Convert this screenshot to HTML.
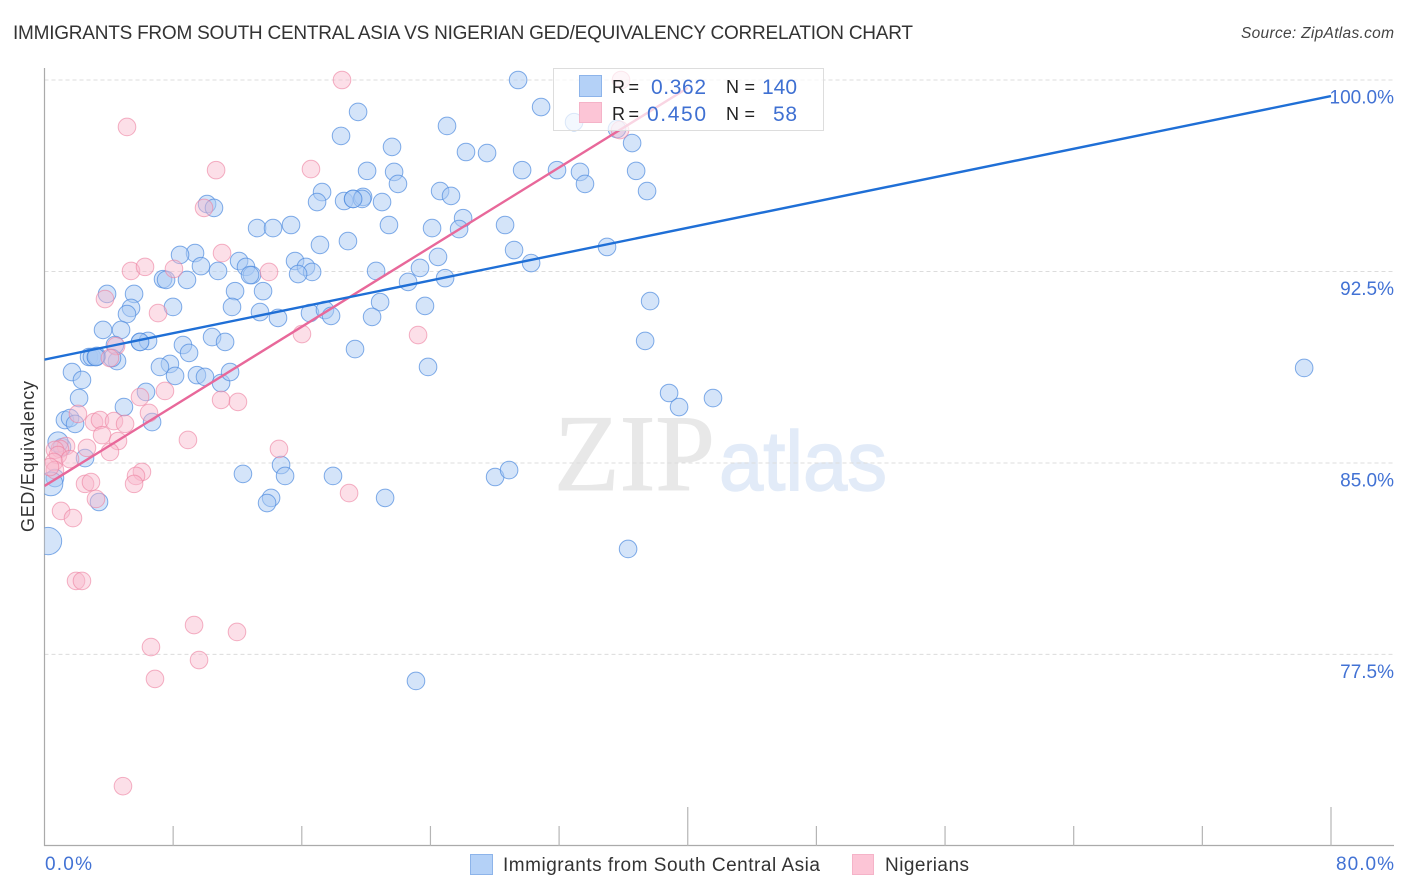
<!DOCTYPE html>
<html lang="en">
<head>
<meta charset="utf-8">
<title>GED/Equivalency Correlation Chart</title>
<style>
html,body{margin:0;padding:0;background:#fff;width:1406px;height:892px;overflow:hidden}
svg{display:block;font-family:"Liberation Sans",sans-serif}
</style>
</head>
<body>
<svg id="chart" xmlns="http://www.w3.org/2000/svg" width="1406" height="892" viewBox="0 0 1406 892">
  <defs><clipPath id="plot-clip"><rect x="44.5" y="60" width="1350" height="786"/></clipPath></defs>
  <text x="13" y="39" font-size="19" fill="#333" textLength="900" lengthAdjust="spacing">IMMIGRANTS FROM SOUTH CENTRAL ASIA VS NIGERIAN GED/EQUIVALENCY CORRELATION CHART</text>
  <text x="1241" y="38" font-size="15.5" font-style="italic" fill="#444" textLength="153" lengthAdjust="spacing">Source: ZipAtlas.com</text>
  <g>
    <text x="554" y="490" font-family="'Liberation Serif',serif" font-size="109" fill="#e8e8e8" stroke="#e8e8e8" stroke-width="1" textLength="161" lengthAdjust="spacingAndGlyphs">ZIP</text>
    <text x="719" y="490" font-size="84" fill="#e2ebf8" stroke="#e2ebf8" stroke-width="1.5" textLength="168" lengthAdjust="spacingAndGlyphs">atlas</text>
  </g>
  <g id="grid"></g>
  <g id="axes"></g>
  <text transform="translate(34,532) rotate(-90)" x="0" y="0" font-size="18" fill="#333" textLength="151" lengthAdjust="spacing">GED/Equivalency</text>
  <g clip-path="url(#plot-clip)">
    <g id="blue-dots"></g>
    <g id="pink-dots"></g>
    <g id="trends"></g>
  </g>
  <g id="ylabels"></g>
  <g>
    <rect x="553.5" y="68.5" width="270" height="62" fill="#fff" fill-opacity="0.72" stroke="#ddd"/>
    <rect x="579.5" y="75.5" width="22" height="21" fill="#b4d1f7" stroke="#8db4ea"/>
    <rect x="579.5" y="102.5" width="22" height="20" fill="#fcc5d6" stroke="#f5b3c8"/>
    <text x="612" y="93" font-size="18" fill="#222" textLength="27" lengthAdjust="spacing">R =</text>
    <text x="651" y="94" font-size="21" fill="#3f70d2" textLength="55" lengthAdjust="spacing">0.362</text>
    <text x="726" y="93" font-size="18" fill="#222" textLength="29" lengthAdjust="spacing">N =</text>
    <text x="762" y="94" font-size="21" fill="#3f70d2" textLength="35" lengthAdjust="spacing">140</text>
    <text x="612" y="120" font-size="18" fill="#222" textLength="27" lengthAdjust="spacing">R =</text>
    <text x="647" y="121" font-size="21" fill="#3f70d2" textLength="59" lengthAdjust="spacing">0.450</text>
    <text x="726" y="120" font-size="18" fill="#222" textLength="29" lengthAdjust="spacing">N =</text>
    <text x="773" y="121" font-size="21" fill="#3f70d2" textLength="24" lengthAdjust="spacing">58</text>
  </g>
  <g>
    <rect x="470.5" y="854.5" width="22" height="20" fill="#b4d1f7" stroke="#8db4ea"/>
    <text x="503" y="871" font-size="19" fill="#333" textLength="317" lengthAdjust="spacing">Immigrants from South Central Asia</text>
    <rect x="852.5" y="854.5" width="21" height="20" fill="#fcc5d6" stroke="#f5b3c8"/>
    <text x="885" y="871" font-size="19" fill="#333" textLength="84" lengthAdjust="spacing">Nigerians</text>
  </g>
</svg>
<script>
// Chart data (x: share of immigrants %, y: GED/equivalency %)
const yTicks = [100, 92.5, 85, 77.5];
const yTickLabels = ["100.0%", "92.5%", "85.0%", "77.5%"];
const xTicks = [0, 8, 16, 24, 32, 40, 48, 56, 64, 72, 80];
const xMajorTicks = [40, 80];
const xTickLabels = ["0.0%", "80.0%"];

const blueX = [29.45,30.88,19.50,25.03,32.93,21.61,18.44,35.60,36.54,26.21,27.52,29.70,31.87,33.30,36.79,33.61,37.47,20.06,21.74,21.98,17.26,16.95,18.63,19.19,19.81,19.75,20.99,24.60,25.28,26.03,25.78,24.10,28.64,21.42,10.11,10.54,13.22,14.21,15.33,17.13,18.87,29.20,30.26,34.98,24.47,23.35,20.62,22.61,24.91,9.36,8.43,9.73,10.79,12.10,12.53,12.90,12.78,15.58,16.26,16.64,15.77,13.59,11.85,7.37,7.56,8.86,3.89,5.57,5.38,5.13,7.99,11.66,13.40,14.52,16.51,17.44,17.82,20.87,20.37,23.66,37.66,3.64,4.76,10.42,11.23,5.94,6.44,4.38,8.61,8.99,19.31,37.35,2.77,2.95,3.26,3.20,4.51,4.20,7.80,7.18,8.12,9.48,9.98,10.98,11.54,23.85,78.33,1.71,2.33,2.15,6.31,4.94,6.69,38.84,39.46,41.57,1.27,1.59,1.90,2.52,1.09,12.34,14.71,14.96,17.94,28.02,28.89,14.09,13.84,21.18,3.39,36.29,23.10,0.65,5.94,3.20,19.19,0.84,0.40,0.22];
const blueY = [100,98.94,98.75,98.20,98.35,97.38,97.81,98.08,97.53,97.18,97.14,96.47,96.47,96.40,96.44,95.93,95.65,96.44,96.40,95.93,95.61,95.22,95.26,95.34,95.42,95.34,95.22,95.65,95.46,94.59,94.16,94.20,94.32,94.32,95.14,94.99,94.20,94.20,94.32,93.54,93.69,93.34,92.83,93.46,93.07,92.64,92.52,92.09,92.24,93.22,93.15,92.71,92.52,92.91,92.68,92.36,92.36,92.91,92.68,92.48,92.40,91.73,91.73,92.20,92.17,92.17,91.62,91.62,91.07,90.83,91.11,91.11,90.91,90.68,90.87,90.99,90.76,91.30,90.72,91.15,91.34,90.21,90.21,89.93,89.74,89.74,89.78,89.62,89.62,89.31,89.46,89.78,89.15,89.15,89.19,89.15,88.99,89.11,88.88,88.76,88.41,88.44,88.37,88.13,88.56,88.76,88.72,88.56,88.25,87.54,87.78,87.19,86.60,87.74,87.19,87.54,86.68,86.76,86.53,85.19,85.62,84.57,84.92,84.49,84.49,84.45,84.72,83.63,83.43,83.63,83.47,81.63,76.46,84.41,89.74,89.15,95.34,85.82,84.18,81.94];
// Bubble weights of the last few blue points (all others weigh 1)
const blueLastWeights = [1.15, 1.35, 1.55];

const pinkX = [18.50,35.85,5.13,10.67,16.57,9.92,11.04,5.38,6.25,8.05,13.96,3.76,7.06,16.01,23.23,4.45,4.07,7.49,5.94,10.98,12.03,6.50,2.08,3.08,3.45,4.32,5.01,3.58,4.57,8.92,2.64,4.07,14.58,1.34,0.96,0.65,0.84,0.59,1.59,0.65,0.34,6.06,5.69,5.57,2.52,2.89,3.20,18.94,1.03,1.77,1.96,2.33,9.30,11.97,6.62,9.61,6.87,4.88,35.79];
const pinkY = [100,100,98.16,96.47,96.51,94.99,93.22,92.52,92.68,92.60,92.48,91.42,90.87,90.05,90.01,89.58,89.11,87.82,87.58,87.47,87.39,86.96,86.92,86.60,86.68,86.64,86.53,86.09,85.86,85.90,85.59,85.43,85.55,85.66,85.55,85.51,85.31,85.04,85.15,84.72,84.84,84.65,84.49,84.18,84.18,84.25,83.59,83.82,83.12,82.84,80.38,80.38,78.65,78.38,77.79,77.28,76.54,72.34,98.04];

const blueTrendX = [0, 80];
const blueTrendY = [89.05, 99.37];
const pinkTrendX = [0, 40];
const pinkTrendY = [84.10, 99.69];

// Axis functions
const NS = "http://www.w3.org/2000/svg";
const sx = v => 44.5 + v * (1331 - 44.5) / 80;
const sy = v => 80 + (100 - v) * 25.53;
function mk(tag, parent, attrs) {
  const el = document.createElementNS(NS, tag);
  for (const k in attrs) el.setAttribute(k, attrs[k]);
  parent.appendChild(el);
  return el;
}
const grid = document.getElementById("grid");
const axes = document.getElementById("axes");
const ylabels = document.getElementById("ylabels");
const blueDots = document.getElementById("blue-dots");
const pinkDots = document.getElementById("pink-dots");
const trends = document.getElementById("trends");

yTicks.forEach((t, i) => {
  const line = mk("line", grid, {x1: 44.5, x2: 1394, y1: sy(t), y2: sy(t), stroke: "#dcdcdc", "stroke-width": 1, "stroke-dasharray": "4 3"});
  
  
  const label = mk("text", ylabels, {x: 1394, y: sy(t) + 23.5, "text-anchor": "end", "font-size": 19, fill: "#4272d4"});
  label.textContent = yTickLabels[i];
  
  
});

const yAxisLine = mk("line", axes, {x1: 44.5, x2: 44.5, y1: 68, y2: 846, stroke: "#aaa", "stroke-width": 1.2});


const xAxisLine = mk("line", axes, {x1: 44, x2: 1394, y1: 845.5, y2: 845.5, stroke: "#aaa", "stroke-width": 1.2});


xTicks.slice(1).forEach(t => {
  const top = xMajorTicks.includes(t) ? 807 : 826;
  const tick = mk("line", axes, {x1: sx(t), x2: sx(t), y1: top, y2: 846, stroke: "#b5b5b5", "stroke-width": 1.2});
  
  
});
const xLabelLeft = mk("text", axes, {x: 45, y: 870, "font-size": 19, fill: "#4272d4", textLength: 47, lengthAdjust: "spacing"});
xLabelLeft.textContent = xTickLabels[0];


const xLabelRight = mk("text", axes, {x: 1336, y: 870, "font-size": 19, fill: "#4272d4", textLength: 58, lengthAdjust: "spacing"});
xLabelRight.textContent = xTickLabels[1];



const R = 8.8;
blueX.forEach((x, i) => {
  const fromEnd = blueX.length - i;
  const w = fromEnd <= blueLastWeights.length ? blueLastWeights[blueLastWeights.length - fromEnd] : 1;
  const c = mk("circle", blueDots, {cx: sx(x), cy: sy(blueY[i]), r: R * w, fill: "#a9c9f3", "fill-opacity": 0.5, stroke: "#4d8ade", "stroke-opacity": 0.7, "stroke-width": 1});
  
  
});
pinkX.forEach((x, i) => {
  const c = mk("circle", pinkDots, {cx: sx(x), cy: sy(pinkY[i]), r: R, fill: "#f9b9cd", "fill-opacity": 0.45, stroke: "#ec7f9f", "stroke-opacity": 0.6, "stroke-width": 1});
  
  
});

const pinkLine = mk("line", trends, {x1: sx(pinkTrendX[0]), y1: sy(pinkTrendY[0]), x2: sx(pinkTrendX[1]), y2: sy(pinkTrendY[1]), stroke: "#e8689a", "stroke-width": 2.4});


const blueLine = mk("line", trends, {x1: sx(blueTrendX[0]), y1: sy(blueTrendY[0]), x2: sx(blueTrendX[1]), y2: sy(blueTrendY[1]), stroke: "#1f6fd6", "stroke-width": 2.4});


</script>
</body>
</html>
